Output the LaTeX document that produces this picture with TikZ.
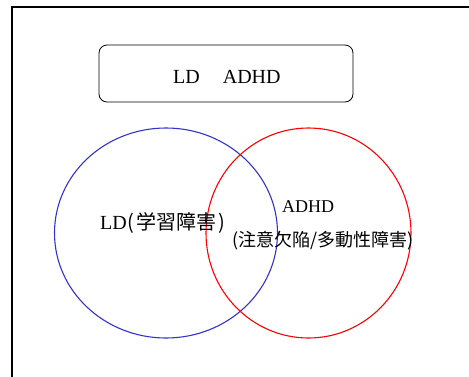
\documentclass[tikz,border=0pt]{standalone}
\usepackage{fontspec}
\setmainfont{Liberation Serif}
\newfontfamily\cjk{Noto Sans CJK JP}
\definecolor{myblue}{RGB}{51,51,204}
\begin{document}
\begin{tikzpicture}[x=1pt,y=-1pt,
  lbl/.style={inner sep=0pt,anchor=base west,font=\fontsize{20}{22}\selectfont},
  lbls/.style={inner sep=0pt,anchor=base west,font=\fontsize{18}{20}\selectfont},
  circ/.style={line width=1.1pt}]
\useasboundingbox (0,0) rectangle (469,376);
\coordinate (fb) at (12,377);
\coordinate (ftl) at (12,7);
\coordinate (fr) at (470,7);
\draw[line width=2pt] (fb) -- (ftl) -- (fr);
\node[draw,rounded corners=8pt,line width=0.8pt,minimum width=254pt,minimum height=57pt] (box) at (226,73.5) {};
\node[lbl] (top) at (173,83) {LD\hspace{23pt}ADHD};
\draw[circ,myblue] (166,233) ellipse [x radius=111.5, y radius=105] node (ld) {};
\draw[circ,red] (308.5,233) ellipse [x radius=102.5, y radius=105] node (adhd) {};
\node[lbl] (ldt) at (100,229) {LD{\cjk\hspace{1pt}(\hspace{2pt}学習障害\hspace{2pt})}};
\node[lbls] (adt) at (282,212) {ADHD};
\node[lbls] (adt2) at (232,246) {\cjk (注意欠陥/多動性障害)};
\end{tikzpicture}
\end{document}
